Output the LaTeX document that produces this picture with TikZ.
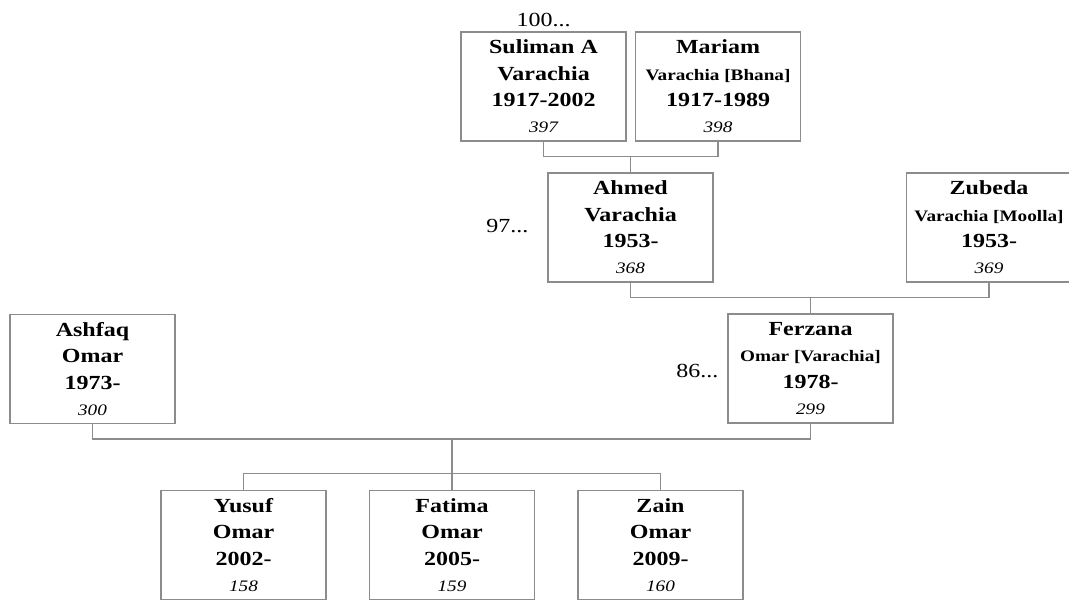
\documentclass[tikz,border=0pt]{standalone}
\usepackage{fontspec}
\setmainfont{Liberation Serif}[FakeStretch=1.2]
\usetikzlibrary{positioning}
\newcommand{\maiden}[1]{{\fontsize{16}{26.3}\selectfont #1}}
\newcommand{\recno}[1]{{\fontsize{16}{26.3}\selectfont\mdseries\itshape #1}}

\begin{document}
\begin{tikzpicture}[
  x=1pt, y=-1pt,
  every node/.style={font=\fontsize{20}{26.3}\selectfont},
  person/.style={draw=black!45, line width=1.2pt, minimum width=165pt,
    minimum height=109pt, inner sep=0pt, align=center, font=\fontsize{20}{26.3}\selectfont\bfseries},
  link/.style={draw=black!45, line width=1.2pt}
]
  \useasboundingbox (0,0) rectangle (1069,601);

  % grandparents
  \node[person] (suliman) at (543.5, 86.5) {Suliman A\\Varachia\\1917-2002\\\recno{397}};
  \node[person] (mariam) at (718, 86.5) {Mariam\\\maiden{Varachia [Bhana]}\\1917-1989\\\recno{398}};
  \node[anchor=base] (more100) at (543.5, 26.7) {100...};

  % parents
  \node[person] (ahmed) at (630.5, 227.5) {Ahmed\\Varachia\\1953-\\\recno{368}};
  \node[person] (zubeda) at (989, 227.5) {Zubeda\\\maiden{Varachia [Moolla]}\\1953-\\\recno{369}};
  \node[anchor=base east] (more97) at (532, 233) {97...};

  % couple
  \node[person] (ashfaq) at (92.5, 369) {Ashfaq\\Omar\\1973-\\\recno{300}};
  \node[person] (ferzana) at (810.5, 368.5) {Ferzana\\\maiden{Omar [Varachia]}\\1978-\\\recno{299}};
  \node[anchor=base east] (more86) at (722, 378) {86...};

  % children
  \foreach \n/\nm/\yr/\id [count=\i from 0] in
      {yusuf/Yusuf/2002/158, fatima/Fatima/2005/159, zain/Zain/2009/160}
    \node[person] (\n) at (243.5 + \i*208.5, 545) {\nm\\Omar\\\yr-\\\recno{\id}};

  \draw[link] (suliman.south) -- ++(0,15) coordinate (sm) -| (mariam.south);
  \draw[link] (ahmed.north) -- (ahmed.north |- sm);
  \draw[link] (ahmed.south) -- ++(0,15) coordinate (az) -| (zubeda.south);
  \draw[link] (ferzana.north) -- (ferzana.north |- az);
  \draw[link] (ashfaq.south) -- ++(0,15) coordinate (af) -| (ferzana.south);
  \draw[link] (fatima.north) -- (fatima.north |- af);
  \draw[link] (yusuf.north) -- ++(0,-16) -| (zain.north);
\end{tikzpicture}
\end{document}
